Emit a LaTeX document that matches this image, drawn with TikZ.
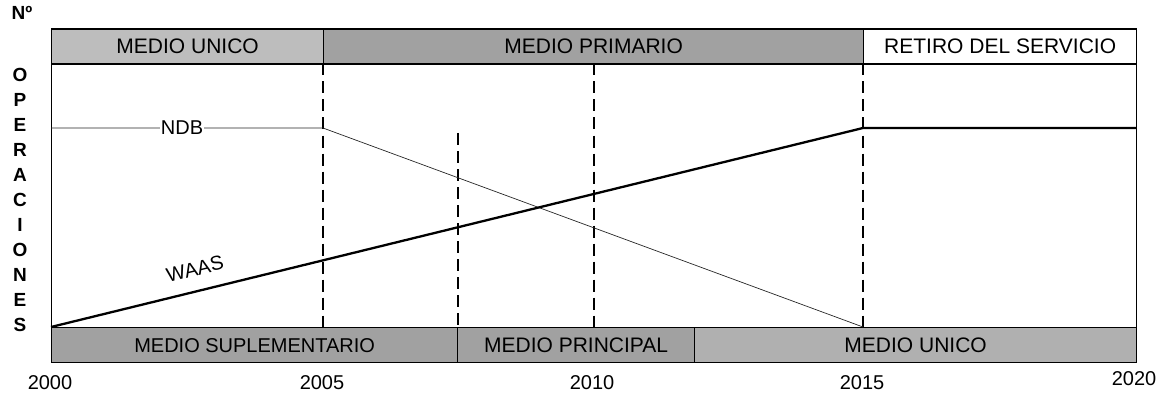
\documentclass[tikz,border=0pt]{standalone}
\usepackage{fontspec}
\setmainfont{Liberation Sans}
\definecolor{bandlight}{gray}{0.74}
\definecolor{banddark}{gray}{0.63}
\definecolor{bandmid}{gray}{0.69}
\begin{document}
\begin{tikzpicture}[x=1pt,y=-1pt,
  band/.style={draw=black, line width=1.3pt, minimum height=35pt, inner sep=0pt,
    anchor=north west, font=\fontsize{21}{21}\selectfont},
  yearlbl/.style={font=\fontsize{20}{20}\selectfont, inner sep=0pt},
  ylet/.style={font=\bfseries\fontsize{19}{19}\selectfont, inner sep=0pt},
  curvelbl/.style={font=\fontsize{20}{20}\selectfont, inner sep=1pt},
  dashline/.style={line width=1.8pt, dash pattern=on 12pt off 6pt},
  ndbline/.style={line width=0.7pt, black!85},
  waasline/.style={line width=2.3pt},
  frameline/.style={line width=0.9pt}]
\useasboundingbox (0,0) rectangle (1161,393);
% top bands
\node[band, fill=bandlight, minimum width=272pt] (tb1) at (51,28.5) {MEDIO UNICO};
\node[band, fill=banddark, minimum width=540pt] (tb2) at (323,28.5) {MEDIO PRIMARIO};
\node[band, fill=white, minimum width=273pt] (tb3) at (863,28.5) {RETIRO DEL SERVICIO};
% bottom bands
\node[band, fill=banddark, minimum width=406pt, font=\fontsize{20}{20}\selectfont] (bb1) at (51,327) {MEDIO SUPLEMENTARIO};
\node[band, fill=banddark, minimum width=237pt] (bb2) at (457,327) {MEDIO PRINCIPAL};
\node[band, fill=bandmid, minimum width=442pt] (bb3) at (694,327) {MEDIO UNICO};
% key coordinates
\coordinate (fL) at (51,63.5);
\coordinate (fLb) at (51,327);
\coordinate (fR) at (1136,63.5);
\coordinate (fRb) at (1136,327);
\coordinate (d1t) at (323,63.5);
\coordinate (d1b) at (323,327);
\coordinate (d2t) at (458,133);
\coordinate (d2b) at (458,327);
\coordinate (d3t) at (594,63.5);
\coordinate (d3b) at (594,327);
\coordinate (d4t) at (863,63.5);
\coordinate (d4b) at (863,327);
\coordinate (n0) at (51,128);
\coordinate (n1) at (323,128);
\coordinate (n2) at (863,327);
\coordinate (w0) at (51,327);
\coordinate (w1) at (863,128);
\coordinate (w2) at (1136,128);
% frame sides
\draw[frameline] (fL) -- (fLb);
\draw[frameline] (fR) -- (fRb);
% dashed verticals
\draw[dashline] (d1t) -- (d1b);
\draw[dashline] (d2t) -- (d2b);
\draw[dashline] (d3t) -- (d3b);
\draw[dashline] (d4t) -- (d4b);
% curves
\draw[ndbline] (n0) -- (n1) -- (n2);
\draw[waasline] (w0) -- (w1) -- (w2);
% curve labels
\node[curvelbl, fill=white] (ndb) at (182,128) {NDB};
\node[curvelbl, rotate=13.8] (waas) at (195,269) {WAAS};
% years
\node[yearlbl] (y2000) at (50,383) {2000};
\node[yearlbl] (y2005) at (322,383) {2005};
\node[yearlbl] (y2010) at (592,383) {2010};
\node[yearlbl] (y2015) at (862,383) {2015};
\node[yearlbl] (y2020) at (1134,379) {2020};
% y axis label
\node[ylet] (yN) at (22,13) {Nº};
\foreach \l [count=\i] in {O,P,E,R,A,C,I,O,N,E,S}
  \node[ylet] (yl\i) at (20,50+25*\i) {\l};
\end{tikzpicture}
\end{document}
